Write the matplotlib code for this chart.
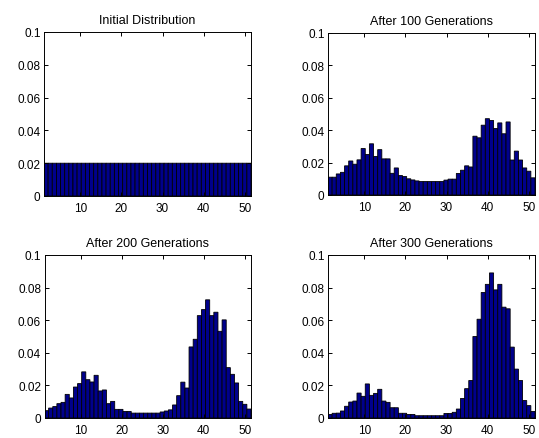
import numpy as np
import matplotlib
matplotlib.use("Agg")
import matplotlib.pyplot as plt

plt.rcParams['font.family'] = ['Liberation Sans', 'DejaVu Sans']

titles = ["Initial Distribution", "After 100 Generations",
          "After 200 Generations", "After 300 Generations"]

initial = [0.02] * 50

gen100 = [0.011, 0.011, 0.013, 0.014, 0.018, 0.021, 0.019, 0.0217, 0.0287, 0.025,
          0.0316, 0.0238, 0.028, 0.0223, 0.0223, 0.0134, 0.0167, 0.012, 0.0114, 0.010,
          0.0093, 0.0087, 0.0083, 0.0083, 0.0083, 0.0083, 0.0083, 0.0083, 0.0092, 0.0098,
          0.0098, 0.0133, 0.0153, 0.018, 0.0173, 0.0363, 0.0353, 0.0431, 0.0471, 0.046,
          0.041, 0.0445, 0.0378, 0.0451, 0.0216, 0.0271, 0.0216, 0.0167, 0.0147, 0.0106]

gen200 = [0.0045, 0.0061, 0.007, 0.0088, 0.0096, 0.0145, 0.0123, 0.019, 0.0211, 0.0283,
          0.0235, 0.0221, 0.0262, 0.0166, 0.0172, 0.0088, 0.0102, 0.0053, 0.0053, 0.004,
          0.004, 0.003, 0.003, 0.003, 0.003, 0.003, 0.003, 0.003, 0.0037, 0.0043,
          0.005, 0.008, 0.0137, 0.022, 0.0184, 0.0436, 0.0483, 0.0628, 0.0665, 0.0725,
          0.0628, 0.0649, 0.0532, 0.0602, 0.0309, 0.0268, 0.0215, 0.0102, 0.0084, 0.0055]

gen300 = [0.0022, 0.0029, 0.003, 0.0043, 0.0072, 0.0098, 0.0104, 0.0153, 0.0133, 0.0209,
          0.0139, 0.0151, 0.0176, 0.0104, 0.0096, 0.0063, 0.0063, 0.0029, 0.0029, 0.0022,
          0.0022, 0.0014, 0.0014, 0.0014, 0.0014, 0.0014, 0.0014, 0.0014, 0.0028, 0.0028,
          0.0035, 0.0055, 0.012, 0.018, 0.023, 0.050, 0.0606, 0.077, 0.082, 0.089,
          0.0786, 0.082, 0.068, 0.067, 0.0435, 0.030, 0.023, 0.0107, 0.0076, 0.004]

series = [initial, gen100, gen200, gen300]

x_ticks = [10, 20, 30, 40, 50]
y_ticks = [0, 0.02, 0.04, 0.06, 0.08, 0.1]
y_tick_labels = ["0", "0.02", "0.04", "0.06", "0.08", "0.1"]

nbins = 50
lo, hi = 1.2, 51.5
bw = (hi - lo) / nbins
centers = lo + bw * (np.arange(nbins) + 0.5)

W, H = 539, 439
fig = plt.figure(figsize=(W / 100, H / 100), dpi=100)
fig.patch.set_facecolor('white')

# (left, top, right, bottom) in pixels
boxes = [(44, 33, 251, 197), (328, 34, 535, 196),
         (44.5, 256, 251, 419), (328, 256, 535, 419)]

for vals, title, (l, t, r, b) in zip(series, titles, boxes):
    ax = fig.add_axes([l / W, 1 - b / H, (r - l) / W, (b - t) / H])
    bars = ax.bar(centers, vals, width=bw, color='#00008C', edgecolor='black',
                  linewidth=0.6, align='center')
    for p in bars:
        p.set_snap(False)
    ax.set_xlim(lo, hi)
    ax.set_ylim(0, 0.1)
    ax.set_xticks(x_ticks)
    ax.set_yticks(y_ticks)
    ax.set_yticklabels(y_tick_labels)
    ax.tick_params(direction='in', length=3, width=0.7, top=True, right=True,
                   labelsize=8.5, pad=2.5)
    ax.tick_params(axis='x', pad=4)
    for s in ax.spines.values():
        s.set_linewidth(0.7)
    ax.set_title(title, fontsize=9, pad=6.5)

fig.savefig("out.png", dpi=100, facecolor='white')
